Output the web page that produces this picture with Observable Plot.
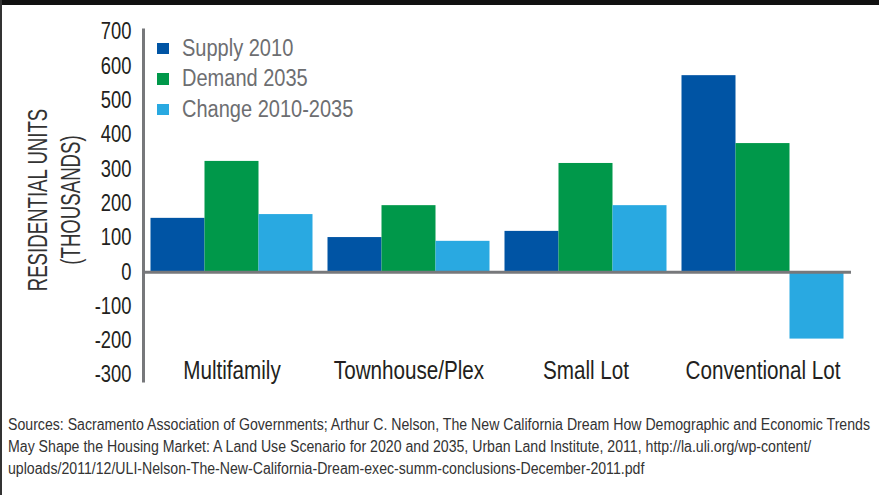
<!DOCTYPE html>
<html>
<head>
<meta charset="utf-8">
<script src="https://cdn.jsdelivr.net/npm/d3@7"></script>
<script src="https://cdn.jsdelivr.net/npm/@observablehq/plot@0.6"></script>
<style>
  html, body { margin: 0; padding: 0; background: #fff; }
  #wrap { position: relative; width: 879px; height: 495px; overflow: hidden;
          font-family: "Liberation Sans", Arial, sans-serif; }
  #chart { position: absolute; left: 0; top: 0; }
  #chart svg text { font-family: "Liberation Sans", Arial, sans-serif; }
  .topbar { position: absolute; left: 0; top: 0; width: 879px; height: 5px; background: #111; }
  .leftbar { position: absolute; left: 0; top: 0; width: 1.5px; height: 495px; background: #333; }
  #legend { position: absolute; left: 157px; top: 33px; }
  #legend .item { height: 30.5px; display: flex; align-items: center; color: #6d6e71; font-size: 23px; white-space: nowrap; }
  #legend .sw { width: 11.5px; height: 11.5px; margin-right: 13px; flex: none; }
  #legend .lt { display: inline-block; transform: scaleX(0.87); transform-origin: 0 50%; }
  #ylabel { position: absolute; left: 55px; top: 200px; transform: translate(-50%, -50%) rotate(-90deg) scaleX(0.69);
            text-align: center; font-size: 27px; line-height: 33px; color: #333; white-space: nowrap; }
  #caption { position: absolute; left: 8px; top: 414px; font-size: 16px; line-height: 22px; color: #333; }
  #caption div { white-space: nowrap; transform-origin: 0 50%; }
</style>
</head>
<body>
<div id="wrap">
  <div id="chart"></div>
  <div id="ylabel">RESIDENTIAL UNITS<br>(THOUSANDS)</div>
  <div id="legend"></div>
  <div id="caption">
    <div>Sources: Sacramento Association of Governments; Arthur C. Nelson, The New California Dream How Demographic and Economic Trends</div>
    <div>May Shape the Housing Market: A Land Use Scenario for 2020 and 2035, Urban Land Institute, 2011, http://la.uli.org/wp-content/</div>
    <div>uploads/2011/12/ULI-Nelson-The-New-California-Dream-exec-summ-conclusions-December-2011.pdf</div>
  </div>
  <div class="topbar"></div>
  <div class="leftbar"></div>
</div>
<script>
const categories = ["Multifamily", "Townhouse/Plex", "Small Lot", "Conventional Lot"];
const series = ["Supply 2010", "Demand 2035", "Change 2010-2035"];
const supply2010 = [157, 101, 119, 573];
const demand2035 = [323, 194, 317, 375];
const change20102035 = [168, 90, 194, -195];
const yTicks = [-300, -200, -100, 0, 100, 200, 300, 400, 500, 600, 700];
const colors = ["#0054a4", "#00984a", "#29a9e1"];

const data = [];
categories.forEach((c, i) => {
  data.push({category: c, series: series[0], value: supply2010[i]});
  data.push({category: c, series: series[1], value: demand2035[i]});
  data.push({category: c, series: series[2], value: change20102035[i]});
});

const chart = Plot.plot({
  width: 879,
  height: 400,
  marginLeft: 142.5,
  marginRight: 28.5,
  marginTop: 31.6,
  marginBottom: 25.4,
  fx: {domain: categories, padding: 0, axis: null, label: null},
  x: {domain: series, padding: 0, insetLeft: 7.5, insetRight: 7.5, axis: null, label: null},
  y: {domain: [-300, 700], axis: null},
  color: {domain: series, range: colors},
  marks: [
    Plot.barY(data, {fx: "category", x: "series", y: "value", fill: "series"}),
    Plot.ruleY([0], {stroke: "#77787b", strokeWidth: 3}),
    Plot.frame({anchor: "left", facetAnchor: "left", stroke: "#77787b", strokeWidth: 3, insetTop: -2, insetBottom: -6}),
    Plot.axisY({ticks: yTicks, tickSize: 0, tickPadding: 12, tickFormat: d => String(d),
                fontSize: 23, label: null, fill: "#231f20"}),
    Plot.text(categories, {fx: d => d, text: d => d, frameAnchor: "bottom", lineAnchor: "middle", dy: -4,
                           fontSize: 25.5, fill: "#231f20"})
  ]
});
document.getElementById("chart").appendChild(chart);

// condensed look: compress glyphs horizontally around each label's own anchor
chart.querySelectorAll("text").forEach(t => {
  const s = categories.includes(t.textContent) ? 0.81 : /^-?\d+$/.test(t.textContent) ? 0.8 : null;
  if (s == null) return;
  const tr = t.getAttribute("transform") || "";
  const x = parseFloat(t.getAttribute("x") || "0") || 0;
  t.setAttribute("transform", `${tr} translate(${x},0) scale(${s},1) translate(${-x},0)`);
});

const legend = document.getElementById("legend");
series.forEach((s, i) => {
  const item = document.createElement("div");
  item.className = "item";
  const sw = document.createElement("div");
  sw.className = "sw";
  sw.style.background = colors[i];
  const t = document.createElement("span");
  t.className = "lt";
  t.textContent = s;
  item.appendChild(sw);
  item.appendChild(t);
  legend.appendChild(item);
});

// caption: fit first line to its width in the reference, same factor for all lines
const lines = document.querySelectorAll("#caption div");
const span = document.createElement("span");
span.textContent = lines[0].textContent;
span.style.whiteSpace = "nowrap";
lines[0].textContent = "";
lines[0].appendChild(span);
const w = span.getBoundingClientRect().width;
const k = 862 / w;
lines.forEach(l => { l.style.transform = `scaleX(${k})`; });
</script>
</body>
</html>
